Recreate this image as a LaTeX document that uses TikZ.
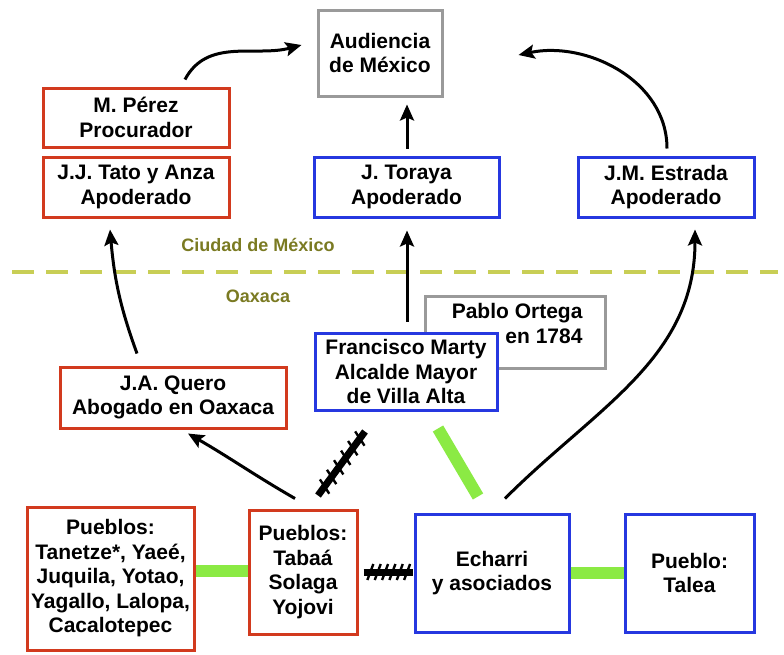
\documentclass[tikz,border=0pt]{standalone}
\usepackage{fontspec}
\setmainfont{Liberation Sans}
\usetikzlibrary{arrows.meta,calc,decorations.markings}
\definecolor{cred}{HTML}{D23A1E}
\definecolor{cblue}{HTML}{2638E0}
\definecolor{cgray}{HTML}{9A9A9A}
\definecolor{cgreen}{HTML}{8BEA44}
\definecolor{colive}{HTML}{7A7A22}
\definecolor{cdash}{HTML}{C8CE55}
\tikzset{
  box/.style={draw, line width=3pt, fill=white, align=center, inner sep=2pt,
    font=\fontsize{21}{24.5}\selectfont\bfseries},
  redbox/.style={box, draw=cred},
  bluebox/.style={box, draw=cblue},
  graybox/.style={box, draw=cgray},
  arr/.style={line width=3pt, -{Stealth[length=16pt,width=14pt,inset=3pt]}},
  greenbar/.style={line width=12pt, draw=cgreen},
  hatch/.style={line width=7pt, draw=black,
    postaction={decorate, decoration={markings,
      mark=between positions 0.14 and 0.9 step 0.15 with {\draw[line width=2.4pt] (-3pt,-8pt) -- (3pt,8pt);}}}},
  region/.style={text=colive, font=\fontsize{18}{20}\selectfont\bfseries}
}
\begin{document}
\begin{tikzpicture}[x=1pt,y=-1pt]
\useasboundingbox (0,0) rectangle (784,654);
% dashed border
\coordinate (dl) at (12,272);
\coordinate (dr) at (778,272);
\draw[cdash, line width=4pt, dash pattern=on 22pt off 12pt] (dl) -- (dr);
\node[region] (cdmx) at (258,245) {Ciudad de México};
\node[region] (oax) at (258,296) {Oaxaca};

% nodes
\node[graybox, minimum width=124pt, minimum height=86pt] (aud) at (380,53) {Audiencia\\de México};
\node[redbox, minimum width=186pt, minimum height=59pt] (perez) at (136,117.5) {M. Pérez\\Procurador};
\node[redbox, minimum width=186pt, minimum height=60pt] (tato) at (136,187) {J.J. Tato y Anza\\Apoderado};
\node[bluebox, minimum width=185pt, minimum height=60pt] (toraya) at (406.5,187) {J. Toraya\\Apoderado};
\node[bluebox, minimum width=176pt, minimum height=60pt] (estrada) at (666,187) {J.M. Estrada\\Apoderado};
\node[graybox, minimum width=180pt, minimum height=72pt] (ortega) at (515,332) {};
\node[box, draw=none, fill=none, align=right, anchor=north east] (ortegatxt) at (586,300) {Pablo Ortega\\en 1784};
\node[bluebox, minimum width=182pt, minimum height=77pt] (marty) at (406,371.5) {Francisco Marty\\Alcalde Mayor\\de Villa Alta};
\node[redbox, minimum width=226pt, minimum height=61pt] (quero) at (173,397.5) {J.A. Quero\\Abogado en Oaxaca};
\node[redbox, minimum width=167pt, minimum height=143pt] (pleft) at (110.5,578.5) {Pueblos:\\Tanetze*, Yaeé,\\Juquila, Yotao,\\Yagallo, Lalopa,\\Cacalotepec};
\node[redbox, minimum width=108pt, minimum height=124pt] (tabaa) at (303,572) {Pueblos:\\Tabaá\\Solaga\\Yojovi};
\node[bluebox, minimum width=154pt, minimum height=118pt] (echarri) at (492,573) {Echarri\\y asociados};
\node[bluebox, minimum width=129pt, minimum height=118pt] (talea) at (689.5,573) {Pueblo:\\Talea};

% arrows
\draw[arr] ($(perez.north)+(49,-7)$) to[out=62,in=195] ($(aud.west)+(-15,-8)$);
\draw[arr] ($(toraya.north)+(0.5,-7)$) -- ($(aud.south)+(27,7)$);
\draw[arr] ($(estrada.north)+(1,-7)$) to[out=90,in=12] ($(aud.east)+(75,2)$);
\draw[arr] ($(quero.north)+(-36,-12)$) to[out=110,in=-85] ($(tato.south)+(-26,11)$);
\draw[arr] ($(marty.north)+(1,-10)$) -- ($(toraya.south)+(0.5,12)$);
\draw[arr] ($(echarri.north)+(13,-14)$) to[out=45,in=-90] ($(estrada.south)+(29,11)$);
\draw[arr] ($(tabaa.north)+(-8,-10)$) to[out=150,in=-30] ($(quero.south)+(15,4)$);

% relations
\draw[hatch] ($(tabaa.north)+(15,-13)$) -- ($(marty.south)+(-41,20)$);
\draw[greenbar] ($(marty.south)+(32,17)$) -- ($(echarri.north)+(-14,-16)$);
\draw[greenbar] (pleft.east |- 0,571) -- (tabaa.west |- 0,571);
\draw[hatch] ($(tabaa.east)+(5,0)$) -- ($(echarri.west)+(-1,-1)$);
\draw[greenbar] (echarri.east) -- (talea.west);
\end{tikzpicture}
\end{document}
